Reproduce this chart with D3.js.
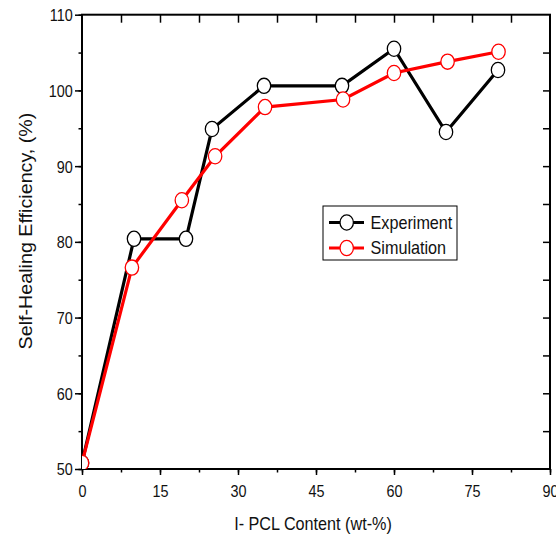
<!DOCTYPE html>
<html>
<head>
<meta charset="utf-8">
<script src="https://cdn.jsdelivr.net/npm/d3@7"></script>
<style>
  body { margin: 0; background: #fff; }
  svg { display: block; font-family: "Liberation Sans", Arial, sans-serif; }
</style>
</head>
<body>
<div id="chart"></div>
<script>
// data
var expX = [0, 10, 20, 25, 35, 50, 60, 70, 80];
var expY = [50.8, 80.4, 80.4, 94.9, 100.6, 100.6, 105.5, 94.5, 102.7];
var simX = [0, 9.6, 19.2, 25.6, 35.2, 50.2, 60, 70.3, 80.1];
var simY = [50.8, 76.6, 85.5, 91.3, 97.8, 98.8, 102.3, 103.8, 105.1];
var seriesNames = ["Experiment", "Simulation"];
var seriesColors = ["#000000", "#ff0000"];
var xTicks = [0, 15, 30, 45, 60, 75, 90];
var yTicks = [50, 60, 70, 80, 90, 100, 110];

var svgWidth = 556;
var svgHeight = 539;
var margin = { top: 14.7, right: 6, bottom: 70, left: 82 };
var width = svgWidth - margin.left - margin.right;
var height = svgHeight - margin.top - margin.bottom;

var squash = 0.9; // glyphs in the picture are a little narrow

var svg = d3.select("#chart")
  .append("svg")
  .attr("width", svgWidth)
  .attr("height", svgHeight);

var chartGroup = svg.append("g")
  .attr("transform", `translate(${margin.left}, ${margin.top})`);

var x = d3.scaleLinear().domain([0, 90]).range([0, width]);
var y = d3.scaleLinear().domain([50, 110]).range([height, 0]);

svg.append("clipPath").attr("id", "plotclip")
  .append("rect")
  .attr("x", 0).attr("y", 0)
  .attr("width", width).attr("height", height);

// minor ticks (every 7.5 on x, every 5 on y)
var xMinor = d3.range(0, 91, 7.5);
var yMinor = d3.range(50, 111, 5);

// bottom axis: minor first, then major with labels
chartGroup.append("g")
  .attr("transform", `translate(0, ${height})`)
  .call(d3.axisBottom(x).tickValues(xMinor).tickSize(3.5).tickSizeOuter(0).tickFormat(""))
  .call(g => g.select(".domain").remove())
  .selectAll("line").attr("stroke-width", 1.5);

var xAxis = chartGroup.append("g")
  .attr("transform", `translate(0, ${height})`)
  .call(d3.axisBottom(x).tickValues(xTicks).tickSize(6).tickSizeOuter(0));
xAxis.select(".domain").remove();
xAxis.selectAll("line").attr("stroke-width", 1.5);
xAxis.selectAll("text")
  .attr("y", 28.3)
  .attr("dy", null)
  .attr("transform", `scale(${squash},1)`)
  .attr("font-size", 16)
  .attr("fill", "#111");

// left axis
chartGroup.append("g")
  .call(d3.axisLeft(y).tickValues(yMinor).tickSize(3.5).tickSizeOuter(0).tickFormat(""))
  .call(g => g.select(".domain").remove())
  .selectAll("line").attr("stroke-width", 1.5);

var yAxis = chartGroup.append("g")
  .call(d3.axisLeft(y).tickValues(yTicks).tickSize(7).tickSizeOuter(0));
yAxis.select(".domain").remove();
yAxis.selectAll("line").attr("stroke-width", 1.5);
yAxis.selectAll("text")
  .attr("x", -9.3 / squash)
  .attr("dy", "0.37em")
  .attr("transform", `scale(${squash},1)`)
  .attr("font-size", 16)
  .attr("fill", "#111");

// top and right mirror ticks, pointing inward
chartGroup.append("g")
  .call(d3.axisTop(x).tickValues(xMinor.slice(1, -1)).tickSize(-8).tickSizeOuter(0).tickFormat(""))
  .call(g => g.select(".domain").remove())
  .selectAll("line").attr("stroke-width", 1.5);

chartGroup.append("g")
  .attr("transform", `translate(${width}, 0)`)
  .call(d3.axisRight(y).tickValues(yMinor.slice(1, -1)).tickSize(-7).tickSizeOuter(0).tickFormat(""))
  .call(g => g.select(".domain").remove())
  .selectAll("line").attr("stroke-width", 1.5);

// frame
chartGroup.append("rect")
  .attr("x", 0).attr("y", 0)
  .attr("width", width).attr("height", height)
  .attr("fill", "none")
  .attr("stroke", "#000")
  .attr("stroke-width", 2);

// series
var series = [
  { name: seriesNames[0], color: seriesColors[0], xs: expX, ys: expY },
  { name: seriesNames[1], color: seriesColors[1], xs: simX, ys: simY }
];

var line = d3.line()
  .x(d => x(d[0]))
  .y(d => y(d[1]));

var plot = chartGroup.append("g").attr("clip-path", "url(#plotclip)");

series.forEach(function(s) {
  var pts = s.xs.map((v, i) => [v, s.ys[i]]);
  plot.append("path")
    .datum(pts)
    .attr("d", line)
    .attr("fill", "none")
    .attr("stroke", s.color)
    .attr("stroke-width", 3.2);
  plot.selectAll(null)
    .data(pts)
    .enter()
    .append("ellipse")
    .attr("cx", d => x(d[0]))
    .attr("cy", d => y(d[1]))
    .attr("rx", 6.7)
    .attr("ry", 7.6)
    .attr("fill", "#fff")
    .attr("stroke", s.color)
    .attr("stroke-width", 1.3);
});

// legend
var legend = svg.append("g").attr("transform", "translate(323, 206)");
legend.append("rect")
  .attr("x", 0).attr("y", 0)
  .attr("width", 134).attr("height", 54)
  .attr("fill", "#fff")
  .attr("stroke", "#000")
  .attr("stroke-width", 1);

series.forEach(function(s, i) {
  var ly = 16.5 + i * 25.5;
  legend.append("line")
    .attr("x1", 6).attr("x2", 41)
    .attr("y1", ly).attr("y2", ly)
    .attr("stroke", s.color)
    .attr("stroke-width", 3.2);
  legend.append("ellipse")
    .attr("cx", 23.7).attr("cy", ly)
    .attr("rx", 6.7).attr("ry", 7.6)
    .attr("fill", "#fff")
    .attr("stroke", s.color)
    .attr("stroke-width", 1.3);
  legend.append("text")
    .attr("transform", `translate(47.5, ${ly + 6.4}) scale(${squash},1)`)
    .attr("font-size", 18)
    .attr("fill", "#111")
    .text(s.name);
});

// axis titles
svg.append("text")
  .attr("transform", `translate(${margin.left + width / 2 - 3}, 530) scale(${squash},1)`)
  .attr("text-anchor", "middle")
  .attr("font-size", 18)
  .attr("fill", "#111")
  .text("I- PCL Content (wt-%)");

svg.append("text")
  .attr("transform", `translate(31.7, 231) rotate(-90) scale(1,${squash})`)
  .attr("text-anchor", "middle")
  .attr("font-size", 19.7)
  .attr("fill", "#111")
  .text("Self-Healing Efficiency, (%)");
</script>
</body>
</html>
